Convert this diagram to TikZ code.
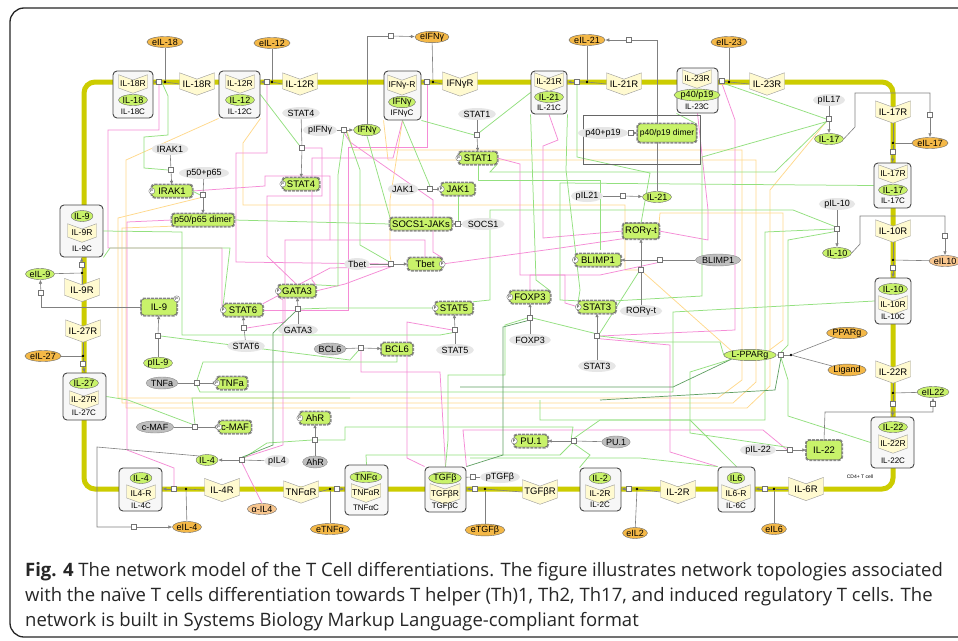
\documentclass[tikz,border=0pt]{standalone}
\usepackage{fontspec}
\setmainfont{Liberation Sans}
\setsansfont{Liberation Sans}
\newfontfamily\capfont{Open Sans}
\usetikzlibrary{shapes.geometric,shapes.symbols,arrows.meta}
\pgfdeclarelayer{back}
\pgfdeclarelayer{lines}
\pgfsetlayers{back,lines,main}
\definecolor{lg}{HTML}{C8F26A}
\definecolor{org}{HTML}{F4B847}
\definecolor{pch}{HTML}{F8C68E}
\definecolor{recf}{HTML}{FFFAD0}
\definecolor{memb}{HTML}{CCCC00}
\definecolor{pkc}{HTML}{F58CD6}
\definecolor{gnc}{HTML}{93E07F}
\definecolor{ylc}{HTML}{FFD98C}
\definecolor{dgc}{HTML}{5F9F62}
\definecolor{lgr}{HTML}{E6E6E6}
\definecolor{dgr}{HTML}{BEBEBE}
\tikzset{
 fn/.style={font=\fontsize{#1}{#1}\selectfont},
 cx/.style={draw=black!72, fill=black!3, rounded corners=4pt, line width=0.9pt, inner sep=0pt},
 rec/.style={shape=signal, signal from=north, signal to=south, signal pointer angle=140, draw=black!40, fill=recf, fn=9.5, inner sep=1.5pt, minimum width=35pt, minimum height=20pt},
 reci/.style={rec, minimum width=29pt, minimum height=12pt, fn=8.5, inner sep=1pt},
 gel/.style={ellipse, draw=black!60, fill=lg, fn=9, inner xsep=0pt, inner ysep=0pt, minimum height=11pt},
 oel/.style={gel, fill=org},
 lab/.style={ellipse, fill=lgr, fn=9, inner xsep=0pt, inner ysep=0pt, minimum height=12pt},
 dlab/.style={lab, fill=dgr, draw=black!45},
 prot/.style={rectangle, rounded corners=2.5pt, draw=black!70, fill=lg, fn=9.5, inner xsep=2pt, inner ysep=1.5pt, minimum height=12pt, preaction={draw=black!45, densely dotted, line width=3pt}},
 rx/.style={rectangle, draw=black!55, fill=white, minimum size=5pt, inner sep=0pt, line width=0.5pt},
 dt/.style={circle, fill=black, minimum size=2.6pt, inner sep=0pt},
 pc/.style={circle, draw=black!55, fill=white, minimum size=6pt, inner sep=0pt, font=\fontsize{4}{4}\selectfont},
 cl/.style={fn=8, inner sep=0pt},
 gr/.style={draw=black!50, line width=0.6pt},
 ar/.style={-{Latex[length=4pt,width=3.5pt]}},
 pk/.style={draw=pkc, line width=0.75pt},
 gn/.style={draw=gnc, line width=0.75pt},
 yl/.style={draw=ylc, line width=0.75pt},
 dg/.style={draw=dgc, line width=0.7pt},
 captxt/.style={anchor=base west, inner sep=0pt, text=black!85, font=\capfont\fontsize{18.5}{22}\selectfont},
}
\begin{document}
\begin{tikzpicture}[x=1pt,y=-1pt,font=\fontsize{9}{10}\selectfont]
\useasboundingbox (0,0) rectangle (958,640);
\begin{pgfonlayer}{back}
\fill[white] (0,0) rectangle (958,640);
\draw[black!85,line width=1.3pt,rounded corners=14pt] (10,8) rectangle (1000,637);
\draw[draw=memb,line width=5pt,rounded corners=11pt] (84,82) rectangle (893,489);
\end{pgfonlayer}

% ---------- complexes
\node[cx,minimum width=40pt,minimum height=47pt] (c18) at (133,94.5) {};
\node[reci] (r18i) at (133,84) {IL-18R};
\node[gel] (g18) at (133,100) {IL-18};
\node[cl] (l18) at (133,112) {IL-18C};
\node[cx,minimum width=41pt,minimum height=47pt] (c12) at (239.5,94.5) {};
\node[reci] (r12i) at (240,84) {IL-12R};
\node[gel] (g12) at (240,100) {IL-12};
\node[cl] (l12) at (240,112) {IL-12C};
\node[cx,minimum width=37pt,minimum height=49pt] (cIFN) at (402.5,95.5) {};
\node[reci] (rIFi) at (402,85) {IFNγ-R};
\node[gel] (gIFi) at (402,102) {IFNγ};
\node[cl] (lIF) at (402,114) {IFNγC};
\node[cx,minimum width=36pt,minimum height=43pt] (c21) at (549,92.5) {};
\node[reci] (r21i) at (549,82) {IL-21R};
\node[gel] (g21) at (549,97) {IL-21};
\node[cl] (l21) at (549,108) {IL-21C};
\node[cx,minimum width=41pt,minimum height=45pt] (c23) at (697.5,90.5) {};
\node[reci] (r23i) at (697,79) {IL-23R};
\node[gel] (g23) at (697,95) {p40/p19};
\node[cl] (l23) at (697,107) {IL-23C};
\node[cx,minimum width=37pt,minimum height=45pt] (c17) at (892.5,185.5) {};
\node[reci] (r17i) at (893,174) {IL-17R};
\node[gel] (g17) at (893,190) {IL-17};
\node[cl] (l17) at (893,201) {IL-17C};
\node[cx,minimum width=36pt,minimum height=46pt] (c10) at (893,301) {};
\node[gel] (g10i) at (893,289) {IL-10};
\node[reci] (r10i) at (893,305) {IL-10R};
\node[cl] (l10) at (893,317) {IL-10C};
\node[cx,minimum width=43pt,minimum height=51pt] (c22) at (892.5,442.5) {};
\node[gel] (g22i) at (893,427) {IL-22};
\node[reci] (r22i) at (893,444) {IL-22R};
\node[cl] (l22) at (893,461) {IL-22C};
\node[cx,minimum width=37pt,minimum height=45pt] (c6) at (736.5,489.5) {};
\node[gel] (g6i) at (736,478) {IL6};
\node[reci] (r6i) at (736,494) {IL6-R};
\node[cl] (l6) at (736,506) {IL-6C};
\node[cx,minimum width=41pt,minimum height=43pt] (c2) at (600.5,489.5) {};
\node[gel] (g2i) at (600,478) {IL-2};
\node[reci] (r2i) at (600,494) {IL-2R};
\node[cl] (l2) at (600,505) {IL-2C};
\node[cx,minimum width=41pt,minimum height=45pt] (cTGF) at (445.5,489.5) {};
\node[gel] (gTGF) at (445,478) {TGFβ};
\node[reci] (rTGFi) at (445,494) {TGFβR};
\node[cl] (lTGF) at (445,506) {TGFβC};
\node[cx,minimum width=43pt,minimum height=50pt] (cTNF) at (366.5,490) {};
\node[gel] (gTNF) at (366,477) {TNFα};
\node[reci] (rTNFi) at (366,493) {TNFαR};
\node[cl] (lTNF) at (366,508) {TNFαC};
\node[cx,minimum width=43pt,minimum height=43pt] (c4) at (140.5,489.5) {};
\node[gel] (g4i) at (141,478) {IL-4};
\node[reci] (r4i) at (141,494) {IL4-R};
\node[cl] (l4) at (141,506) {IL-4C};
\node[cx,minimum width=43pt,minimum height=47pt] (c27) at (84.5,396.5) {};
\node[gel] (g27i) at (84,383) {IL-27};
\node[reci] (r27i) at (84,400) {IL-27R};
\node[cl] (l27) at (84,413) {IL-27C};
\node[cx,minimum width=43pt,minimum height=52pt] (c9) at (81.5,231) {};
\node[gel] (g9i) at (82,216) {IL-9};
\node[reci] (r9i) at (82,233) {IL-9R};
\node[cl] (l9) at (82,249) {IL-9C};

% ---------- membrane receptors
\node[rec] (R18) at (197,84) {IL-18R};
\node[rec] (R12) at (300,84) {IL-12R};
\node[rec] (RIF) at (460,84) {IFNγR};
\node[rec] (R21) at (624,84) {IL-21R};
\node[rec] (R23) at (767,84) {IL-23R};
\node[rec] (R17) at (893,112) {IL-17R};
\node[rec] (R10) at (893,231) {IL-10R};
\node[rec] (R22) at (893,372) {IL-22R};
\node[rec] (R6) at (806,489) {IL-6R};
\node[rec] (R2) at (678,492) {IL-2R};
\node[rec] (RTGF) at (540,492) {TGFβR};
\node[rec] (RTNF) at (301,492) {TNFαR};
\node[rec] (R4) at (222,490) {IL-4R};
\node[rec] (R27) at (83,331) {IL-27R};
\node[rec] (R9) at (82,290) {IL-9R};

% ---------- extracellular ligands
\node[oel] (e18) at (165,42) {eIL-18};
\node[oel] (e12) at (272,43) {eIL-12};
\node[oel] (eIF) at (432,37) {eIFNγ};
\node[oel] (e21) at (587,40) {eIL-21};
\node[oel] (e23) at (729,42) {eIL-23};
\node[oel] (e17) at (930,143) {eIL-17};
\node[oel,fill=pch] (e10) at (945,261) {eIL10};
\node[gel] (e22) at (933,392) {eIL22};
\node[oel] (e6) at (774,529) {eIL6};
\node[oel] (e2) at (635,533) {eIL2};
\node[oel] (eTGF) at (485,530) {eTGFβ};
\node[oel] (eTNF) at (330,529) {eTNFα};
\node[oel,fill=pch] (aIL4) at (262,509) {α-IL4};
\node[oel] (e4) at (187,527) {eIL-4};
\node[oel] (e27) at (43,356) {eIL-27};
\node[gel] (e9) at (40,274) {eIL-9};

% ---------- transport reactions
\node[rx] (sq18) at (159,82) {}; \node[dt] (dot18) at (165,82) {};
\node[rx] (sq12) at (267,82) {}; \node[dt] (dot12) at (272,82) {};
\node[rx] (sqIFN) at (427,82) {}; \node[dt] (dotIFN) at (433,82) {};
\node[rx] (sq21) at (577,82) {}; \node[dt] (dot21) at (587,82) {};
\node[rx] (sq23) at (722,81) {}; \node[dt] (dot23) at (729,82) {};
\node[rx] (sq17) at (893,152) {}; \node[dt] (dot17) at (893,143) {};
\node[rx] (sq10) at (893,268) {}; \node[dt] (dot10) at (893,260) {};
\node[rx] (sq22) at (893,404) {}; \node[dt] (dot22) at (893,393) {};
\node[rx] (sq6) at (765,489) {}; \node[dt] (dot6) at (774,489) {};
\node[rx] (sq2) at (629,489) {}; \node[dt] (dot2) at (637,489) {};
\node[rx] (sqTGF) at (475,489) {}; \node[dt] (dotTGF) at (485,489) {};
\node[rx] (sqTNF) at (337,489) {}; \node[dt] (dotTNF) at (330,489) {};
\node[rx] (sq4) at (174,489) {}; \node[dt] (dot4) at (186,489) {};
\node[rx] (sq27) at (83,364) {}; \node[dt] (dot27) at (83,356) {};
\node[rx] (sq9) at (82,265) {}; \node[dt] (dot9) at (82,273) {};
\node[rx] (sqEIF) at (391,36) {};
\node[rx] (sqE21) at (629,40) {};
\node[rx] (sqE17) at (930,115) {};
\node[rx] (sqE10) at (945,236) {};
\node[rx] (sqE22) at (933,404) {};
\node[rx] (sqE4) at (134,527) {};
\node[rx] (sqE9) at (41,293) {};

% ---------- intracellular species
\node[lab] (lpIFN) at (320,130) {pIFNγ};
\node[rx] (sqIF) at (344,130) {};
\node[gel] (gifn) at (367,130) {IFNγ};
\node[lab] (lS4) at (301,113) {STAT4};
\node[rx] (sqS4) at (302,148) {};
\node[prot,minimum width=36pt] (S4) at (301,184) {STAT4};
\node[lab] (lS1) at (477,114) {STAT1};
\node[rx] (sqS1) at (477,135) {};
\node[prot,minimum width=38pt] (S1) at (478,158) {STAT1};
\node[lab] (lJ) at (403,189) {JAK1};
\node[rx] (sqJ) at (430,189) {};
\node[prot,minimum width=33pt] (J) at (458,189) {JAK1};
\node[lab] (lSO) at (483,224) {SOCS1};
\node[rx] (sqSO) at (458,224) {};
\node[prot,minimum width=58pt] (SJ) at (421,224) {SOCS1-JAKs};
\node[lab] (lIR) at (170,149) {IRAK1};
\node[rx] (sqIR) at (171,170) {};
\node[prot,minimum width=40pt] (IR) at (172,191) {IRAK1};
\node[lab] (lP) at (204,173) {p50+p65};
\node[rx] (sqP) at (203,195) {};
\node[prot,minimum width=60pt,fn=9] (PD) at (203,220) {p50/p65 dimer};
\node[lab] (lTb) at (357,264) {Tbet};
\node[rx] (sqTb) at (391,264) {};
\node[prot,minimum width=34pt] (Tb) at (425,264) {Tbet};
\node[lab] (lG) at (298,330) {GATA3};
\node[rx] (sqG) at (298,309) {};
\node[prot,minimum width=37pt] (G3) at (297,291) {GATA3};
\node[lab] (lS6) at (246,346) {STAT6};
\node[rx] (sqS6) at (244,328) {};
\node[prot,minimum width=39pt] (S6) at (243,310) {STAT6};
\node[prot,minimum width=35pt,minimum height=16pt] (il9n) at (159,307) {IL-9};
\node[gel] (pI9) at (158,363) {pIL-9};
\node[rx] (sqI9) at (158,336) {};
\node[dlab] (lTN) at (162,383) {TNFa};
\node[rx] (sqTN) at (197,383) {};
\node[prot,minimum width=30pt] (TN) at (232,383) {TNFa};
\node[dlab] (lCM) at (155,427) {c-MAF};
\node[rx] (sqCM) at (195,427) {};
\node[prot,minimum width=30pt] (CM) at (235,427) {c-MAF};
\node[prot,minimum width=30pt] (Ah) at (315,418) {AhR};
\node[rx] (sqAh) at (315,440) {};
\node[dlab] (lAh) at (315,462) {AhR};
\node[gel] (i4) at (207,460) {IL-4};
\node[rx] (sqI4) at (242,460) {};
\node[lab] (lI4) at (277,461) {pIL4};
\node[dlab] (lB) at (330,349) {BCL6};
\node[rx] (sqB) at (361,348) {};
\node[prot,minimum width=31pt] (B6) at (397,349) {BCL6};
\node[prot,minimum width=37pt] (S5) at (454,308) {STAT5};
\node[rx] (sqS5) at (455,330) {};
\node[lab] (lS5) at (455,350) {STAT5};
\node[prot,minimum width=40pt] (F3) at (530,297) {FOXP3};
\node[rx] (sqF) at (530,318) {};
\node[lab] (lF) at (530,340) {FOXP3};
\node[prot,minimum width=37pt] (S3) at (597,307) {STAT3};
\node[rx] (sqS3) at (597,336) {};
\node[lab] (lS3) at (597,366) {STAT3};
\node[prot,minimum width=45pt] (BL) at (598,260) {BLIMP1};
\node[rx] (sqBL) at (660,260) {};
\node[dlab] (lBL) at (718,260) {BLIMP1};
\node[prot,minimum width=33pt,minimum height=15pt] (RO) at (641,231) {RORγ-t};
\node[rx] (sqR) at (641,270) {};
\node[lab] (lR) at (641,311) {RORγ-t};
\node[lab] (lI21) at (587,196) {pIL21};
\node[rx] (sqI21) at (623,196) {};
\node[gel] (i21) at (657,197) {IL-21};
\node[draw=black!60,line width=0.6pt,minimum width=117pt,minimum height=49pt,inner sep=0pt] (ppbox) at (641.5,139.5) {};
\node[lab] (lPP) at (603,133) {p40+p19};
\node[rx] (sqPP) at (631,133) {};
\node[prot,minimum width=56pt,minimum height=18pt,fn=8.5] (PPD) at (667,133) {p40/p19 dimer};
\node[lab] (lI17) at (829,100) {pIL17};
\node[rx] (sqI17) at (829,119) {};
\node[gel] (i17) at (829,139) {IL-17};
\node[lab] (lI10) at (837,204) {pIL-10};
\node[rx] (sqI10) at (837,229) {};
\node[gel] (i10) at (837,253) {IL-10};
\node[oel] (PPARg) at (847,333) {PPARg};
\node[oel] (Lig) at (847,370) {Ligand};
\node[dt] (dotPP) at (791,355) {};
\node[rx] (sqPPAR) at (781,355) {};
\node[gel] (LPP) at (750,355) {L-PPARg};
\node[lab] (lI22) at (758,450) {pIL-22};
\node[rx] (sqI22) at (790,450) {};
\node[prot,minimum width=35pt,minimum height=19pt] (il22n) at (824,450) {IL-22};
\node[prot,minimum width=33pt] (PU) at (531,441) {PU.1};
\node[rx] (sqPU) at (574,441) {};
\node[dlab] (lPU) at (616,442) {PU.1};
\node[lab] (lTG) at (500,477) {pTGFβ};
\node[rx] (sqTG) at (473,477) {};
\node[fn=5] (cd4) at (860,477) {CD4+ T cell};

% P markers
\node[pc] (pIR) at (IR.west) {P};
\node[pc] (pS4) at (S4.west) {P};
\node[pc] (pS1) at (S1.west) {P};
\node[pc] (pJ) at (J.west) {P};
\node[pc] (pG3) at (G3.west) {P};
\node[pc] (pS6) at (S6.west) {P};
\node[pc] (pTb) at (Tb.east) {P};
\node[pc] (pc9) at (il9n.north east) {P};
\node[pc] (pS5) at (S5.west) {P};
\node[pc] (pF3) at (F3.west) {P};
\node[pc] (pS3) at (S3.west) {P};
\node[pc] (pBL) at (BL.west) {P};
\node[pc] (pAh) at (Ah.west) {P};
\node[pc] (pCM) at (CM.west) {P};
\node[pc] (pTN) at (TN.west) {P};
\node[pc] (pPU) at (PU.west) {P};

% caption
\node[captxt] (cap1) at (25,576) {{\bfseries Fig. 4} The network model of the T Cell differentiations. The figure illustrates network topologies associated};
\node[captxt] (cap2) at (25,601) {with the naïve T cells differentiation towards T helper (Th)1, Th2, Th17, and induced regulatory T cells. The};
\node[captxt] (cap3) at (25,626) {network is built in Systems Biology Markup Language-compliant format};

\begin{pgfonlayer}{lines}
% ---- yellow
\draw[yl] (sqIF.east) -- (353,150) -- (742,150) -- (742,380) -- (718,398) -- (118,398) -- (118,218) -- (sqP.south west);
\draw[yl] (cIFN.south west) -- (388,160) -- (756,160) -- (756,382) -- (733,403) -- (122,403) -- (122,228) -- (PD.south west);
\draw[yl] (sqI17.south west) -- (770,190) -- (770,386) -- (747,408) -- (126,408) -- (126,160) -- (c12.south west);
\draw[yl] (c12.south east) -- (243,143) -- (243,205) -- (625,205) -- (625,270) -- (sqR.west);
\draw[yl] (RO.north east) -- (660,213) -- (783,213) -- (783,340) -- (LPP.north east);
\draw[yl] (sqR.south east) -- (LPP.north west);
\draw[yl] (cIFN.south) -- (390,200) -- (390,255) -- (sqTb.north);
% ---- pink
\draw[pk] (sq18.south) -- (159,130) -- (108,130) -- (108,248) -- (222,248) -- (222,306) -- (S6.west);
\draw[pk] (sq12.south) -- (267,153) -- (236,153) -- (236,262) -- (sqTb.west);
\draw[pk] (sqS4.east) -- (322,148) -- (322,196) -- (267,196) -- (267,256) -- (G3.north);
\draw[pk] (G3.east) -- (345,284) -- (sqTb.south);
\draw[pk] (Tb.north) -- (425,240) -- (285,240) -- (285,322) -- (sqS6.east);
\draw[pk] (sqIF.south) -- (350,142) -- (433,200) -- (433,252) -- (Tb.north east);
\draw[pk] (cIFN.south) -- (393,158) -- (312,158) -- (312,280) -- (G3.north east);
\draw[pk] (sqIFN.south) -- (427,147) -- (348,147) -- (348,310) -- (S6.east);
\draw[pk] (S1.east) -- (520,164) -- (520,275) -- (565,275) -- (565,303) -- (S3.west);
\draw[pk] (c21.south) -- (558,140) -- (543,146) -- (543,238) -- (RO.west);
\draw[pk] (sq23.south) -- (735,120) -- (735,330) -- (sqS3.east);
\draw[pk] (c23.south) -- (708,210) -- (708,240) -- (RO.east);
\draw[pk] (cTGF.north east) -- (463,430) -- (763,430) -- (sqI22.west);
\draw[pk] (sqS3.south east) -- (670,345) -- (670,452) -- (c6.north west);
\draw[pk] (aIL4.north) -- (sqI4.south);
\draw[pk] (PD.west) -- (127,222) -- (127,450) -- (174,468) -- (sq4.north);
\draw[pk] (cTGF.north west) -- (407,458) -- (407,322) -- (sqS5.west);
\draw[pk] (cTGF.north) -- (440,372) -- (361,372) -- (sqB.south);
\draw[pk] (Tb.east) -- (560,248) -- (RO.south west);
\draw[pk] (G3.south west) -- (283,300) -- (283,445) -- (sqI4.north east);
\draw[pk] (S6.north east) -- (330,268) -- (sqTb.south west);
\draw[pk] (IR.east) -- (265,186) -- (265,176) -- (330,176) -- (330,240);
\draw[pk] (F3.north) -- (530,275) -- (600,275) -- (sqBL.south west);
% ---- green
\draw[gn] (sq18.east) -- (168,96) -- (168,135) -- (144,137) -- (144,168) -- (sqIR.west);
\draw[gn] (c12.east) -- (sqS4.north west);
\draw[gn] (c21.west) -- (sqS1.north east);
\draw[gn] (cIFN.south east) -- (sqS1.west);
\draw[gn] (cIFN.south) -- (sqJ.north);
\draw[gn] (J.south) -- (sqSO);
\draw[gn] (IR.east) -- (sqP.west);
\draw[gn] (sq23.south east) -- (sqI17.west);
\draw[gn] (c23.south west) -- (PPD.north east);
\draw[gn] (sqI17.south west) -- (702,157) -- (702,296) -- (S3.north east);
\draw[gn] (sqI17.south west) -- (775,172) -- (490,172) -- (S1.south east);
\draw[gn] (c17.west) -- (560,183) -- (560,300) -- (S3.north west);
\draw[gn] (sqI10.north west) -- (793,210) -- (490,210) -- (490,300) -- (S5.north east);
\draw[gn] (sqI10.west) -- (765,232) -- (765,420) -- (600,420) -- (sqPU.north);
\draw[gn] (sqI10.south west) -- (788,240) -- (788,345) -- (sqPPAR.north);
\draw[gn] (c10.west) -- (673,312) -- (673,392) -- (200,392) -- (sqTN.south);
\draw[gn] (c9.east) -- (182,232) -- (182,335) -- (440,335) -- (sqS5.south west);
\draw[gn] (PD.east) -- (SJ.west);
\draw[gn] (c9.south east) -- (110,248) -- (230,248) -- (S6.north west);
\draw[gn] (sqG.east) -- (330,308) -- (S5.west);
\draw[gn] (sqI9.east) -- (350,360) -- (sqB.south west);
\draw[gn] (sqTN.north) -- (203,362) -- (397,362) -- (B6.south);
\draw[gn] (sqCM.north) -- (192,398) -- (350,398);
\draw[gn] (c27.east) -- (128,400) -- (sqCM.north west);
\draw[gn] (sqI4.north east) -- (267,443) -- (sqAh.west);
\draw[gn] (sqAh.east) -- (345,440) -- (345,427) -- (573,427) -- (sqPU.north west);
\draw[gn] (cTNF.north) -- (366,455) -- (560,455) -- (sqPU.south west);
\draw[gn] (cTGF.north) -- (448,440) -- (448,375) -- (505,375) -- (505,325) -- (sqF.west);
\draw[gn] (c2.north west) -- (590,455) -- (sqPU.south);
\draw[gn] (c6.north) -- (690,420) -- (540,420) -- (540,400);
\draw[gn] (sqS3.east) -- (650,342) -- (720,342) -- (LPP.west);
\draw[gn] (sqS3.north east) -- (sqR.south west);
\draw[gn] (sqS3.north west) -- (sqF.east);
\draw[gn] (c21.south west) -- (536,280) -- (F3.north east);
\draw[gn] (c21.south east) -- (566,170) -- (580,290) -- (S3.north west);
\draw[gn] (sq21.south) -- (577,157) -- (650,173) -- (RO.north);
\draw[gn] (sqIF.south) -- (338,175) -- (338,286) -- (G3.north east);
\draw[gn] (sqIF.south east) -- (360,170) -- (360,245) -- (sqTb.north west);
\draw[gn] (gifn.south) -- (SJ.north west);
\draw[gn] (sqI22.north west) -- (690,433) -- (690,372) -- (LPP.south west);
\draw[gn] (c22.west) -- (788,416) -- (788,380) -- (sqPPAR.south);
\draw[gn] (c6.north west) -- (640,458) -- (470,458);
\draw[gn] (S1.south) -- (478,180) -- (600,180) -- (600,250);
% ---- dark green
\draw[dg] (sqG.south west) -- (273,333) -- (273,445) -- (sqI4.north);
\draw[dg] (sqF.south west) -- (503,327) -- (503,455) -- (cTGF.north east);
\draw[dg] (LPP.south west) -- (673,387) -- (460,387);
\draw[dg] (sqPPAR.south) -- (775,390) -- (600,400);

% ---- gray reaction links: transport
\draw[gr] (R18.west) -- (dot18) -- (sq18); \draw[gr,ar] (sq18) -- (sq18 -| c18.east); \draw[gr] (e18) -- (dot18);
\draw[gr] (R12.west) -- (dot12) -- (sq12); \draw[gr,ar] (sq12) -- (sq12 -| c12.east); \draw[gr] (e12) -- (dot12);
\draw[gr] (RIF.west) -- (dotIFN) -- (sqIFN); \draw[gr,ar] (sqIFN) -- (sqIFN -| cIFN.east); \draw[gr] (eIF) -- (dotIFN);
\draw[gr] (R21.west) -- (dot21) -- (sq21); \draw[gr,ar] (sq21) -- (sq21 -| c21.east); \draw[gr] (e21) -- (dot21);
\draw[gr] (R23.west) -- (dot23) -- (sq23); \draw[gr,ar] (sq23) -- (sq23 -| c23.east); \draw[gr] (e23) -- (dot23);
\draw[gr] (R17.south) -- (dot17) -- (sq17); \draw[gr,ar] (sq17) -- (c17.north); \draw[gr] (e17) -- (dot17);
\draw[gr] (R10.south) -- (dot10) -- (sq10); \draw[gr,ar] (sq10) -- (c10.north); \draw[gr] (e10) -- (dot10);
\draw[gr] (R22.south) -- (dot22) -- (sq22); \draw[gr,ar] (sq22) -- (c22.north); \draw[gr] (e22) -- (dot22);
\draw[gr] (R6.west) -- (dot6) -- (sq6); \draw[gr,ar] (sq6) -- (sq6 -| c6.east); \draw[gr] (e6) -- (dot6);
\draw[gr] (R2.west) -- (dot2) -- (sq2); \draw[gr,ar] (sq2) -- (sq2 -| c2.east); \draw[gr] (e2) -- (dot2);
\draw[gr] (RTGF.west) -- (dotTGF) -- (sqTGF); \draw[gr,ar] (sqTGF) -- (sqTGF -| cTGF.east); \draw[gr] (eTGF) -- (dotTGF);
\draw[gr] (RTNF.east) -- (dotTNF) -- (sqTNF); \draw[gr,ar] (sqTNF) -- (sqTNF -| cTNF.west); \draw[gr] (eTNF) -- (dotTNF);
\draw[gr] (R4.west) -- (dot4) -- (sq4); \draw[gr,ar] (sq4) -- (sq4 -| c4.east); \draw[gr] (e4) -- (dot4);
\draw[gr] (R27.south) -- (dot27) -- (sq27); \draw[gr,ar] (sq27) -- (c27.north); \draw[gr] (e27) -- (dot27);
\draw[gr] (R9.north) -- (dot9) -- (sq9); \draw[gr,ar] (sq9) -- (c9.south); \draw[gr] (e9) -- (dot9);
% export
\draw[gr] (gifn.north) -- (367,36) -- (sqEIF); \draw[gr,ar] (sqEIF) -- (eIF);
\draw[gr] (i21.north) -- (657,40) -- (sqE21); \draw[gr,ar] (sqE21) -- (e21);
\draw[gr] (i17.east) -- (855,127) -- (855,93) -- (930,93) -- (sqE17); \draw[gr,ar] (sqE17) -- (e17);
\draw[gr] (i10.east) -- (860,244) -- (860,216) -- (945,216) -- (sqE10); \draw[gr,ar] (sqE10) -- (e10);
\draw[gr] (il22n.north) -- (825,412) -- (933,412) -- (sqE22); \draw[gr,ar] (sqE22) -- (e22);
\draw[gr] (i4.north west) -- (97,447) -- (97,527) -- (sqE4); \draw[gr,ar] (sqE4) -- (e4);
\draw[gr] (il9n.west) -- (41,307) -- (sqE9); \draw[gr,ar] (sqE9) -- (e9);
% intracellular
\draw[gr] (lpIFN) -- (sqIF); \draw[gr,ar] (sqIF) -- (gifn);
\draw[gr] (lS4) -- (sqS4); \draw[gr,ar] (sqS4) -- (S4);
\draw[gr] (lS1) -- (sqS1); \draw[gr,ar] (sqS1) -- (S1);
\draw[gr] (lJ) -- (sqJ); \draw[gr,ar] (sqJ) -- (J);
\draw[gr] (lSO) -- (sqSO); \draw[gr,ar] (sqSO) -- (SJ);
\draw[gr] (lIR) -- (sqIR); \draw[gr,ar] (sqIR) -- (IR);
\draw[gr] (lP) -- (sqP); \draw[gr,ar] (sqP) -- (PD);
\draw[gr] (lTb) -- (sqTb); \draw[gr,ar] (sqTb) -- (Tb);
\draw[gr] (lG) -- (sqG); \draw[gr,ar] (sqG) -- (G3);
\draw[gr] (lS6) -- (sqS6); \draw[gr,ar] (sqS6) -- (S6);
\draw[gr] (pI9) -- (sqI9); \draw[gr,ar] (sqI9) -- (il9n);
\draw[gr] (lTN) -- (sqTN); \draw[gr,ar] (sqTN) -- (TN);
\draw[gr] (lCM) -- (sqCM); \draw[gr,ar] (sqCM) -- (CM);
\draw[gr] (lAh) -- (sqAh); \draw[gr,ar] (sqAh) -- (Ah);
\draw[gr] (lI4) -- (sqI4); \draw[gr,ar] (sqI4) -- (i4);
\draw[gr] (lB) -- (sqB); \draw[gr,ar] (sqB) -- (B6);
\draw[gr] (lS5) -- (sqS5); \draw[gr,ar] (sqS5) -- (S5);
\draw[gr] (lF) -- (sqF); \draw[gr,ar] (sqF) -- (F3);
\draw[gr] (lS3) -- (sqS3); \draw[gr,ar] (sqS3) -- (S3);
\draw[gr] (lBL) -- (sqBL); \draw[gr,ar] (sqBL) -- (BL);
\draw[gr] (lR) -- (sqR); \draw[gr,ar] (sqR) -- (RO);
\draw[gr] (lI21) -- (sqI21); \draw[gr,ar] (sqI21) -- (i21);
\draw[gr] (lPP) -- (sqPP); \draw[gr,ar] (sqPP) -- (PPD);
\draw[gr] (lI17) -- (sqI17); \draw[gr,ar] (sqI17) -- (i17);
\draw[gr] (lI10) -- (sqI10); \draw[gr,ar] (sqI10) -- (i10);
\draw[gr] (PPARg) -- (dotPP); \draw[gr] (Lig) -- (dotPP); \draw[gr] (dotPP) -- (sqPPAR); \draw[gr,ar] (sqPPAR) -- (LPP);
\draw[gr] (lI22) -- (sqI22); \draw[gr,ar] (sqI22) -- (il22n);
\draw[gr] (lPU) -- (sqPU); \draw[gr,ar] (sqPU) -- (PU);
\draw[gr] (lTG) -- (sqTG); \draw[gr,ar] (sqTG) -- (gTGF);
\end{pgfonlayer}
\end{tikzpicture}
\end{document}
